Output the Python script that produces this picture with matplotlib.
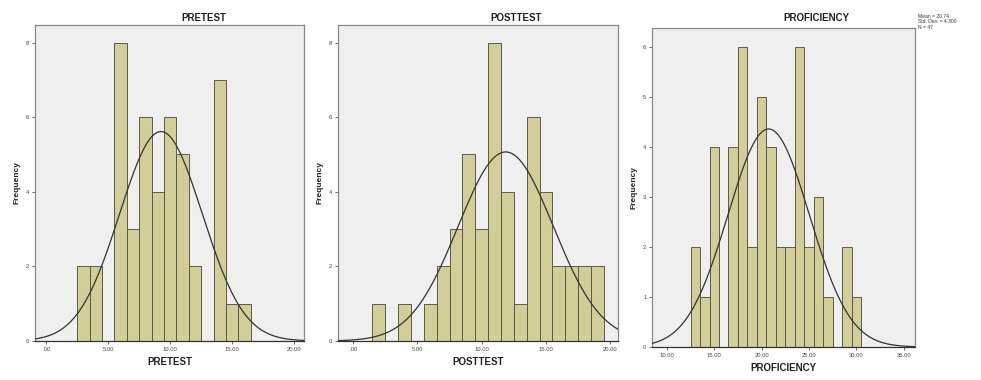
import numpy as np
import matplotlib
matplotlib.use("Agg")
import matplotlib.pyplot as plt

# ---- data ----
pretest_bins = [3, 4, 6, 7, 8, 9, 10, 11, 12, 14, 15, 16]
pretest_counts = [2, 2, 8, 3, 6, 4, 6, 5, 2, 7, 1, 1]
pretest_mean, pretest_sd = 9.26, 3.34

posttest_bins = [2, 4, 6, 7, 8, 9, 10, 11, 12, 13, 14, 15, 16, 17, 18, 19]
posttest_counts = [1, 1, 1, 2, 3, 5, 3, 8, 4, 1, 6, 4, 2, 2, 2, 2]
posttest_mean, posttest_sd = 11.87, 3.70

prof_bins = [13, 14, 15, 17, 18, 19, 20, 21, 22, 23, 24, 25, 26, 27, 29, 30]
prof_counts = [2, 1, 4, 4, 6, 2, 5, 4, 2, 2, 6, 2, 3, 1, 2, 1]
prof_mean, prof_sd = 20.74, 4.30
n_cases = 47

pre_xticks = [0, 5, 10, 15, 20]
pre_xticklabels = [".00", "5.00", "10.00", "15.00", "20.00"]
post_xticks = [0, 5, 10, 15, 20]
post_xticklabels = [".00", "5.00", "10.00", "15.00", "20.00"]
prof_xticks = [10, 15, 20, 25, 30, 35]
prof_xticklabels = ["10.00", "15.00", "20.00", "25.00", "30.00", "35.00"]
pre_yticks = [0, 2, 4, 6, 8]
prof_yticks = [0, 1, 2, 3, 4, 5, 6]

W, H = 981, 380
fig = plt.figure(figsize=(W / 100, H / 100), dpi=100)
fig.patch.set_facecolor("white")

BAR = "#D3CD98"
EDGE = "#5a5a4a"
FACE = "#EFEFEF"
FONT = "Liberation Sans"


def px_axes(l, t, r, b):
    return fig.add_axes([l / W, 1 - b / H, (r - l) / W, (b - t) / H])


def panel(ax, bins, counts, mean, sd, xlim, ylim, xticks, xticklabels, yticks,
          title, title_x, title_y, xlabel):
    ax.set_facecolor(FACE)
    ax.bar(bins, counts, width=1.0, color=BAR, edgecolor=EDGE, linewidth=0.7,
           align="center", zorder=2)
    xs = np.linspace(xlim[0], xlim[1], 400)
    ys = n_cases * 1.0 / (sd * np.sqrt(2 * np.pi)) * np.exp(-0.5 * ((xs - mean) / sd) ** 2)
    ax.plot(xs, ys, color="#333333", linewidth=0.9, zorder=3)
    ax.set_xlim(*xlim)
    ax.set_ylim(*ylim)
    ax.set_xticks(xticks)
    ax.set_xticklabels(xticklabels, fontsize=4.2, family=FONT, color="#444444")
    ax.set_yticks(yticks)
    ax.set_yticklabels([str(v) for v in yticks], fontsize=4.2, family=FONT, color="#444444")
    ax.tick_params(axis="both", length=2.5, width=0.6, color="#555555", pad=1.5)
    for s in ax.spines.values():
        s.set_color("#888888")
        s.set_linewidth(0.9)
    ax.spines["bottom"].set_color("#333333")
    ax.set_xlabel(xlabel, fontsize=7, fontweight="bold", family=FONT, labelpad=4, color="#222222")
    ax.set_ylabel("Frequency", fontsize=6, fontweight="bold", family=FONT, labelpad=4, color="#222222")
    fig.text(title_x / W, 1 - title_y / H, title, fontsize=7, fontweight="bold",
             family=FONT, ha="center", va="center", color="#222222")


ax1 = px_axes(35, 25, 304, 341)
panel(ax1, pretest_bins, pretest_counts, pretest_mean, pretest_sd,
      (-0.9, 20.8), (0, 8.47), pre_xticks, pre_xticklabels, pre_yticks,
      "PRETEST", 204, 18, "PRETEST")

ax2 = px_axes(338, 25, 618, 341)
panel(ax2, posttest_bins, posttest_counts, posttest_mean, posttest_sd,
      (-1.17, 20.6), (0, 8.47), post_xticks, post_xticklabels, pre_yticks,
      "POSTTEST", 516, 18, "POSTTEST")

ax3 = px_axes(652, 28, 915, 347)
panel(ax3, prof_bins, prof_counts, prof_mean, prof_sd,
      (8.42, 36.2), (0, 6.38), prof_xticks, prof_xticklabels, prof_yticks,
      "PROFICIENCY", 816, 18, "PROFICIENCY")

fig.text(918 / W, 1 - 14 / H,
         "Mean = %.2f\nStd. Dev. = %.3f\nN = %d" % (prof_mean, prof_sd, n_cases),
         fontsize=3.6, family=FONT, ha="left", va="top", linespacing=1.1, color="#333333")

fig.savefig("out.png", dpi=100, facecolor="white")
